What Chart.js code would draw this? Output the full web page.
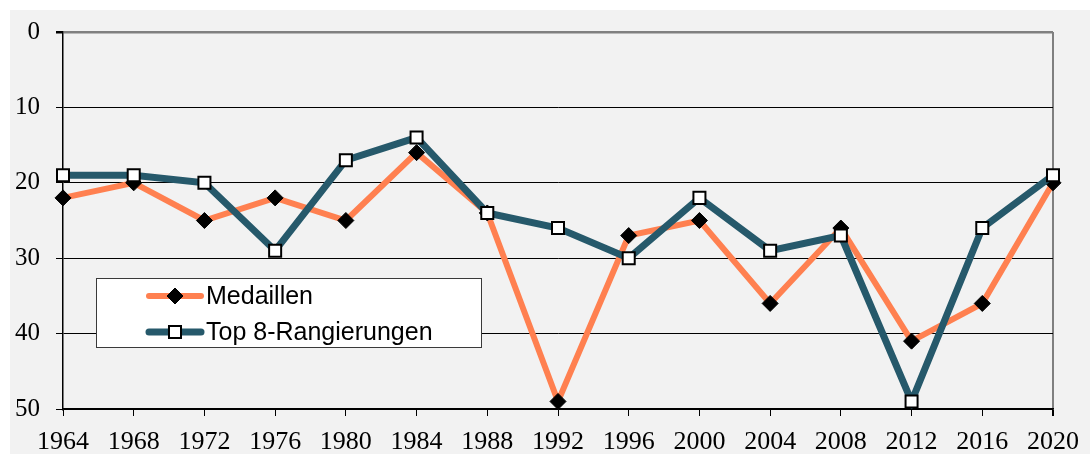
<!DOCTYPE html>
<html>
<head>
<meta charset="utf-8">
<script src="https://cdn.jsdelivr.net/npm/chart.js@4"></script>
<style>
  html, body { margin: 0; padding: 0; background: #fff; }
  #wrap { width: 1090px; height: 454px; position: relative; }
</style>
</head>
<body>
<div id="wrap"><canvas id="c" width="1090" height="454"></canvas></div>
<script>
const years = ["1964", "1968", "1972", "1976", "1980", "1984", "1988", "1992", "1996", "2000", "2004", "2008", "2012", "2016", "2020"]
const medaillen = [22, 20, 25, 22, 25, 16, 24, 49, 27, 25, 36, 26, 41, 36, 20]
const top8 = [19, 19, 20, 29, 17, 14, 24, 26, 30, 22, 29, 27, 49, 26, 19]
const yTicks = [0, 10, 20, 30, 40, 50]

const orange = "#ff8050"
const teal = "#26596b"

// gray page background, leaves a white strip top and left
const bgPlugin = {
  id: "bg",
  beforeDraw(chart) {
    const ctx = chart.ctx
    ctx.save()
    ctx.fillStyle = "#f2f2f2"
    ctx.fillRect(10, 10, chart.width - 10, chart.height - 10)
    ctx.restore()
  }
}

// legend box sitting inside the plot area
const boxLegend = {
  id: "boxLegend",
  afterDraw(chart) {
    const ctx = chart.ctx
    const x0 = 96, y0 = 278, w = 385, h = 69
    ctx.save()
    ctx.fillStyle = "#fff"
    ctx.fillRect(x0, y0, w, h)
    ctx.strokeStyle = "#3a3a3a"
    ctx.lineWidth = 1
    ctx.strokeRect(x0 + 0.5, y0 + 0.5, w, h)
    const rows = [296, 332]
    chart.data.datasets.forEach((ds, i) => {
      const y = rows[i]
      ctx.beginPath()
      ctx.strokeStyle = ds.borderColor
      ctx.lineWidth = ds.borderWidth
      ctx.lineCap = "round"
      ctx.moveTo(149, y)
      ctx.lineTo(201, y)
      ctx.stroke()
      ctx.fillStyle = ds.pointBackgroundColor
      ctx.strokeStyle = ds.pointBorderColor
      ctx.lineWidth = ds.pointBorderWidth
      ctx.lineCap = "butt"
      Chart.helpers.drawPoint(ctx, { pointStyle: ds.pointStyle, radius: ds.pointRadius, rotation: 0, borderWidth: ds.pointBorderWidth }, 175, y)
      ctx.fillStyle = "#000"
      ctx.font = "25px 'Liberation Sans', Arial, sans-serif"
      ctx.textBaseline = "middle"
      ctx.textAlign = "left"
      ctx.fillText(ds.label, 206, y + 1)
    })
    ctx.restore()
  }
}

new Chart(document.getElementById("c"), {
  type: "line",
  data: {
    labels: years,
    datasets: [
      {
        label: "Medaillen",
        data: medaillen,
        borderColor: orange,
        backgroundColor: orange,
        borderWidth: 6,
        pointStyle: "rectRot",
        pointRadius: 8,
        pointBackgroundColor: "#000",
        pointBorderColor: "#000",
        pointBorderWidth: 1,
        tension: 0,
        order: 2,
      },
      {
        label: "Top 8-Rangierungen",
        data: top8,
        borderColor: teal,
        backgroundColor: teal,
        borderWidth: 7,
        pointStyle: "rect",
        pointRadius: 8.5,
        pointBackgroundColor: "#fff",
        pointBorderColor: "#000",
        pointBorderWidth: 2,
        tension: 0,
        order: 1,
      }
    ]
  },
  options: {
    responsive: false,
    animation: false,
    layout: { padding: { top: 32, right: 37, left: 0, bottom: 0 } },
    plugins: {
      legend: { display: false },
      tooltip: { enabled: false },
    },
    scales: {
      x: {
        type: "category",
        offset: false,
        afterFit: (scale) => { scale.height = 45 },
        grid: {
          offset: false,
          drawOnChartArea: true,
          color: (c) => c.index === years.length - 1 ? "#808080" : "rgba(0,0,0,0)",
          lineWidth: (c) => c.index === years.length - 1 ? 2 : 1,
          tickColor: "#000",
          tickLength: 7,
        },
        border: { display: true, color: "#000", width: 1.5 },
        ticks: {
          color: "#000",
          font: { family: "'Liberation Serif', 'Times New Roman', serif", size: 26 },
          padding: 11,
          maxRotation: 0,
          autoSkip: false,
        }
      },
      y: {
        reverse: true,
        min: 0,
        max: 50,
        afterFit: (scale) => { scale.width = 63 },
        afterBuildTicks: (scale) => { scale.ticks = yTicks.map(v => ({ value: v })) },
        grid: {
          color: (c) => c.tick && c.tick.value === 0 ? "#808080" : "#000",
          lineWidth: (c) => c.tick && c.tick.value === 0 ? 2.5 : 1,
          tickColor: "#000",
          tickLength: 7,
        },
        border: { display: true, color: "#000", width: 1.5 },
        ticks: {
          color: "#000",
          font: { family: "'Liberation Serif', 'Times New Roman', serif", size: 25 },
          padding: 16,
        }
      }
    }
  },
  plugins: [bgPlugin, boxLegend]
})
</script>
</body>
</html>
